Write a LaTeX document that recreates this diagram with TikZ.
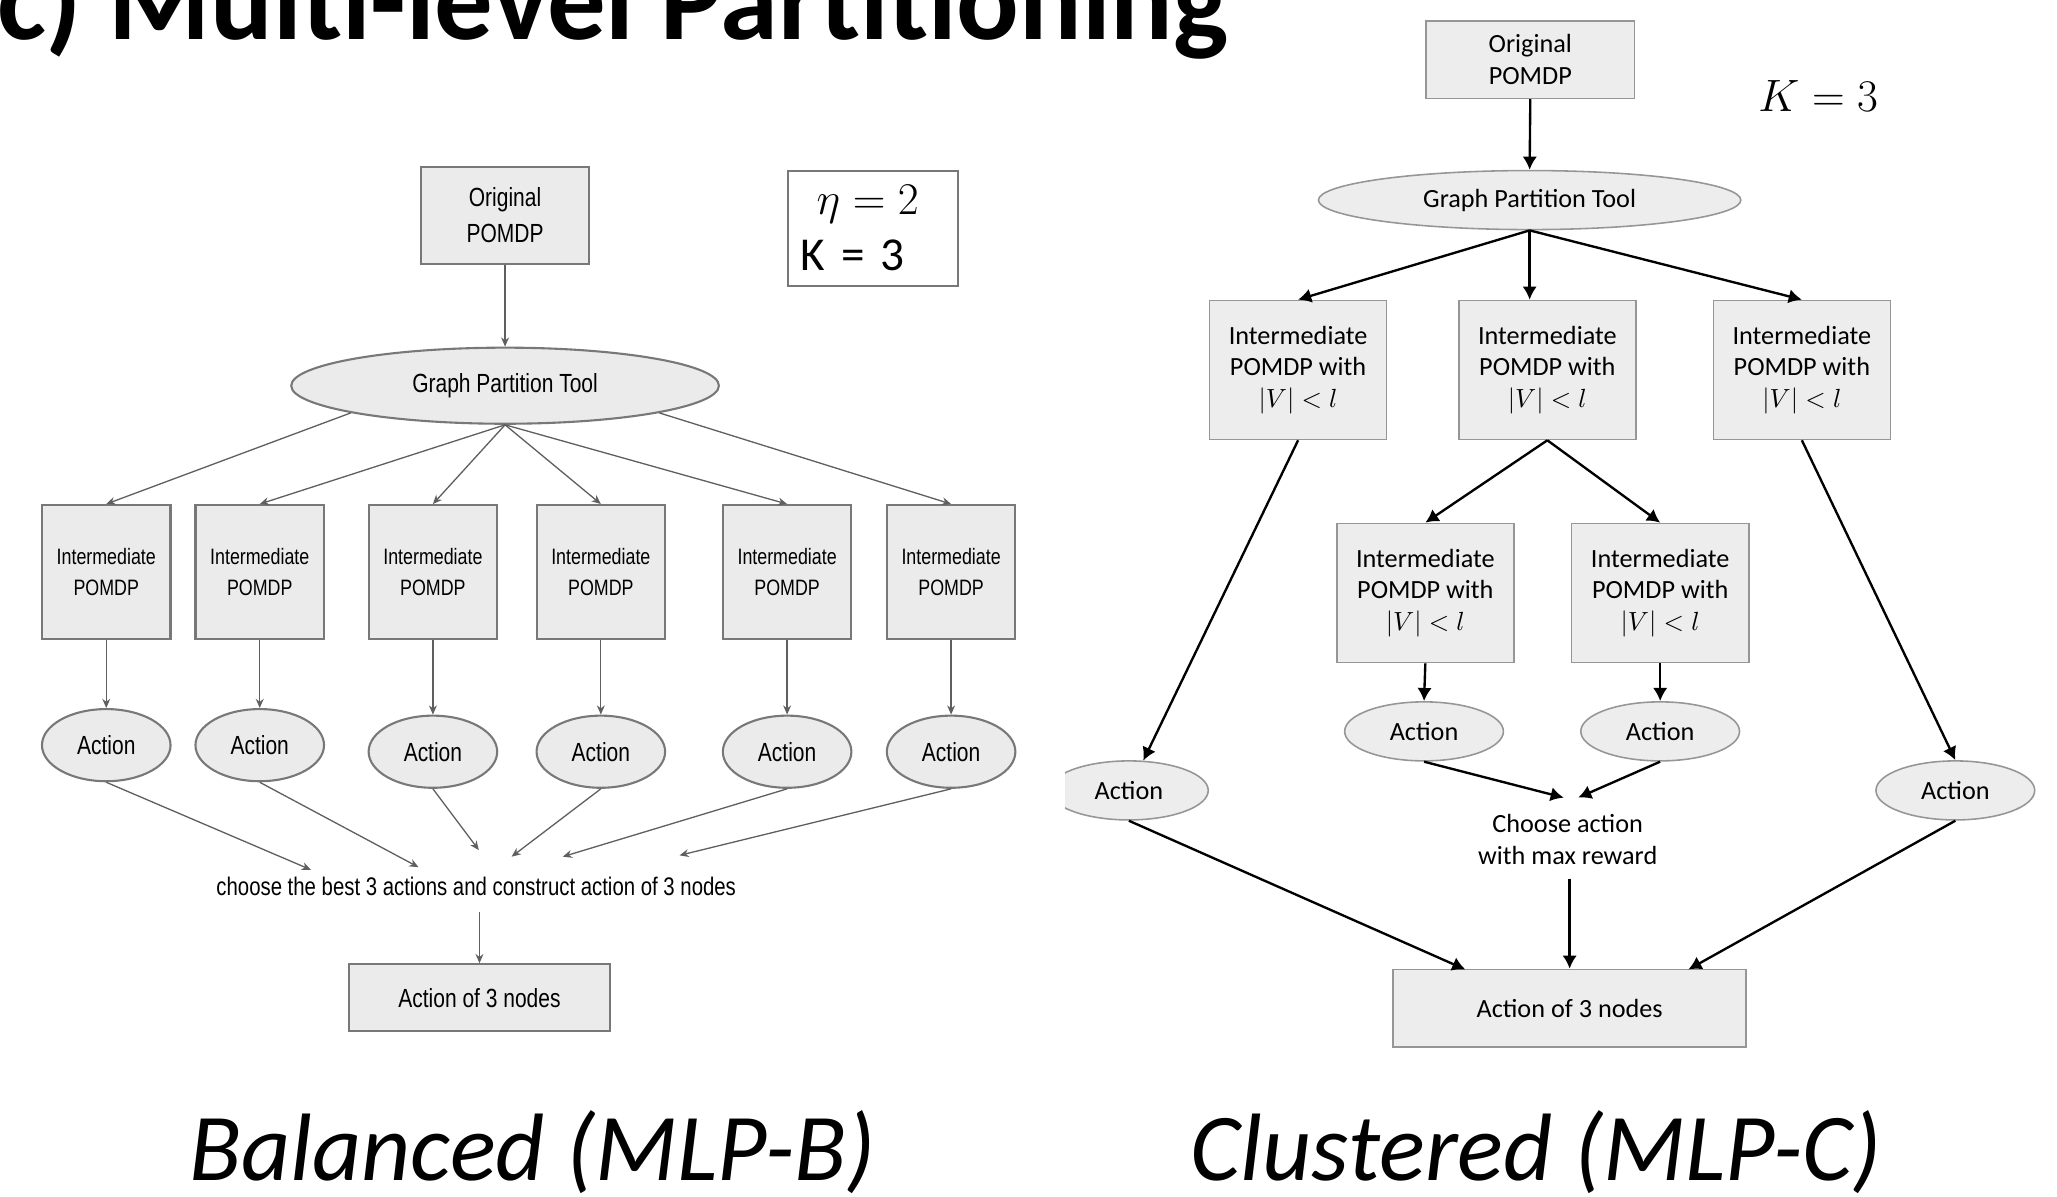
\documentclass[tikz,border=0pt]{standalone}
\usepackage{fontspec}
\setmainfont{Carlito}
\newfontfamily\narrowfont{Liberation Sans}[FakeStretch=0.8]
\usetikzlibrary{shapes.geometric,arrows.meta}

\tikzset{every picture/.style={line width=0.75pt}}
\tikzset{
  lbox/.style={draw={rgb, 255:red, 120; green, 120; blue, 120 }, fill={rgb, 255:red, 235; green, 235; blue, 235 }, line width=0.8pt, inner sep=0pt, align=center, font=\narrowfont\fontsize{10}{14}\selectfont},
  loval/.style={lbox, ellipse},
  larrow/.style={draw={rgb, 255:red, 95; green, 95; blue, 95 }, line width=0.5pt, -{Stealth[length=3.5pt,width=3pt]}},
  rbox/.style={draw={rgb, 255:red, 150; green, 150; blue, 150 }, fill={rgb, 255:red, 237; green, 237; blue, 237 }, line width=0.6pt, inner sep=0pt, align=center, font=\fontsize{10}{12}\selectfont},
  roval/.style={rbox, ellipse},
  rarrow/.style={line width=0.9pt, -{Latex[length=5pt,width=5.5pt]}},
}

\begin{document}
\begin{tikzpicture}[x=0.5pt,y=0.5pt,yscale=-1,xscale=1]
\useasboundingbox (0,0) rectangle (1568,912);

%Text: title
\node[font=\fontsize{44.5}{50}\selectfont\bfseries, anchor=base west, inner sep=0pt] (title) at (-3,30) {c) Multi-level Partitioning};

%Shape: Rectangle -- left, original
\node[lbox, minimum width=64pt, minimum height=37pt] (lorig) at (385,164) {Original\\POMDP};
%Shape: Rectangle -- left, parameters
\node[draw={rgb, 255:red, 120; green, 120; blue, 120 }, fill=white, line width=0.8pt, inner xsep=5pt, inner ysep=0pt, text width=55pt, minimum height=44pt, align=left, font=\fontsize{18}{21.5}\selectfont] (lparam) at (665.5,174) {\hspace{6pt}$\eta = 2$\\K = 3};
%Shape: Ellipse -- left, partition tool
\node[loval, minimum width=163pt, minimum height=29pt] (lgpt) at (385,294) {Graph Partition Tool};

%Shape: Rectangle -- left, intermediate
\node[lbox, minimum width=49pt, minimum height=51pt, font=\narrowfont\fontsize{8.5}{12}\selectfont] (lint1) at (81,436) {Intermediate\\POMDP};
\node[lbox, minimum width=49pt, minimum height=51pt, font=\narrowfont\fontsize{8.5}{12}\selectfont] (lint2) at (198,436) {Intermediate\\POMDP};
\node[lbox, minimum width=49pt, minimum height=51pt, font=\narrowfont\fontsize{8.5}{12}\selectfont] (lint3) at (330,436) {Intermediate\\POMDP};
\node[lbox, minimum width=49pt, minimum height=51pt, font=\narrowfont\fontsize{8.5}{12}\selectfont] (lint4) at (458,436) {Intermediate\\POMDP};
\node[lbox, minimum width=49pt, minimum height=51pt, font=\narrowfont\fontsize{8.5}{12}\selectfont] (lint5) at (600,436) {Intermediate\\POMDP};
\node[lbox, minimum width=49pt, minimum height=51pt, font=\narrowfont\fontsize{8.5}{12}\selectfont] (lint6) at (725,436) {Intermediate\\POMDP};

%Shape: Ellipse -- left, actions
\node[loval, minimum width=49pt, minimum height=27.5pt] (lact1) at (81,568) {Action};
\node[loval, minimum width=49pt, minimum height=27.5pt] (lact2) at (198,568) {Action};
\node[loval, minimum width=49pt, minimum height=27.5pt] (lact3) at (330,573) {Action};
\node[loval, minimum width=49pt, minimum height=27.5pt] (lact4) at (458,573) {Action};
\node[loval, minimum width=49pt, minimum height=27.5pt] (lact5) at (600,573) {Action};
\node[loval, minimum width=49pt, minimum height=27.5pt] (lact6) at (725,573) {Action};

%Text: left, choice
\node[font=\narrowfont\fontsize{9.7}{12}\selectfont, inner xsep=0pt, inner ysep=5.5pt] (lchoose) at (363,676) {choose the best 3 actions and construct action of 3 nodes};
\coordinate (lc1) at (237,663);
\coordinate (lc2) at (319,661);
\coordinate (lc3) at (365,648);
\coordinate (lc4) at (390,653);
\coordinate (lc5) at (429,653);
\coordinate (lc6) at (518,652);
%Shape: Rectangle -- left, output
\node[lbox, minimum width=99.5pt, minimum height=25.5pt] (lout) at (365.5,760.5) {Action of 3 nodes};

%Straight Lines -- left
\draw[larrow] (lorig.south) -- (lgpt.north);
\draw[larrow] (lgpt.190) -- (lint1.north);
\draw[larrow] (lgpt.south) -- (lint2.north);
\draw[larrow] (lgpt.south) -- (lint3.north);
\draw[larrow] (lgpt.south) -- (lint4.north);
\draw[larrow] (lgpt.south) -- (lint5.north);
\draw[larrow] (lgpt.350) -- (lint6.north);
\draw[larrow] (lint1.south) -- (lact1.north);
\draw[larrow] (lint2.south) -- (lact2.north);
\draw[larrow] (lint3.south) -- (lact3.north);
\draw[larrow] (lint4.south) -- (lact4.north);
\draw[larrow] (lint5.south) -- (lact5.north);
\draw[larrow] (lint6.south) -- (lact6.north);
\draw[larrow] (lact1.south) -- (lc1);
\draw[larrow] (lact2.south) -- (lc2);
\draw[larrow] (lact3.south) -- (lc3);
\draw[larrow] (lact4.south) -- (lc4);
\draw[larrow] (lact5.south) -- (lc5);
\draw[larrow] (lact6.south) -- (lc6);
\draw[larrow] (lchoose.south -| lout.north) -- (lout.north);

%Shape: Rectangle -- right, original
\node[rbox, minimum width=79.5pt, minimum height=29.5pt] (rorig) at (1166.5,45.5) {Original\\POMDP};
%Text: right, parameter
\node[font=\fontsize{16.5}{20}\selectfont] (rk) at (1386,73) {$K = 3$};
%Shape: Ellipse -- right, partition tool
\node[roval, minimum width=161pt, minimum height=22.5pt] (rgpt) at (1166,152.5) {Graph Partition Tool};

%Shape: Rectangle -- right, intermediate
\node[rbox, minimum width=67.5pt, minimum height=53pt] (rint1) at (989.5,282) {Intermediate\\POMDP with\\$|V|<l$};
\node[rbox, minimum width=67.5pt, minimum height=53pt] (rint2) at (1179.5,282) {Intermediate\\POMDP with\\$|V|<l$};
\node[rbox, minimum width=67.5pt, minimum height=53pt] (rint3) at (1373.5,282) {Intermediate\\POMDP with\\$|V|<l$};
\node[rbox, minimum width=67.5pt, minimum height=53pt] (rint4) at (1086.5,452) {Intermediate\\POMDP with\\$|V|<l$};
\node[rbox, minimum width=67.5pt, minimum height=53pt] (rint5) at (1265.5,452) {Intermediate\\POMDP with\\$|V|<l$};

%Shape: Ellipse -- right, actions
\node[roval, minimum width=60.5pt, minimum height=22.5pt] (ract4) at (1085.5,557.5) {Action};
\node[roval, minimum width=60.5pt, minimum height=22.5pt] (ract5) at (1265.5,557.5) {Action};
\begin{scope}
\clip (812,570) rectangle (940,640);
\node[roval, minimum width=60.5pt, minimum height=22.5pt] (ract1) at (860.5,602.5) {Action};
\end{scope}
\node[roval, minimum width=60.5pt, minimum height=22.5pt] (ract3) at (1490.5,602.5) {Action};

%Text: right, choice
\node[inner xsep=0pt, inner ysep=5pt, align=center, font=\fontsize{10}{12}\selectfont] (rchoose) at (1195,640) {Choose action\\with max reward};
\coordinate (rm1) at (1192,608);
\coordinate (rm2) at (1203,608);
%Shape: Rectangle -- right, output
\node[rbox, minimum width=134.5pt, minimum height=29.5pt] (rout) at (1196.5,768.5) {Action of 3 nodes};
\coordinate (rin1) at (1117,739);
\coordinate (rin3) at (1287,739);

%Straight Lines -- right
\draw[rarrow] (rorig.south) -- (rgpt.north);
\draw[rarrow] (rgpt.south) -- (rint1.north);
\draw[rarrow] (rgpt.south) -- (rgpt.south |- rint2.north);
\draw[rarrow] (rgpt.south) -- (rint3.north);
\draw[rarrow] (rint2.south) -- (rint4.north);
\draw[rarrow] (rint2.south) -- (rint5.north);
\draw[rarrow] (rint4.south) -- (ract4.north);
\draw[rarrow] (rint5.south) -- (ract5.north);
\draw[rarrow] (rint1.south) -- (ract1);
\draw[rarrow] (rint3.south) -- (ract3.north);
\draw[rarrow] (ract4.south) -- (rm1);
\draw[rarrow] (ract5.south) -- (rm2);
\draw[rarrow] (rchoose.south -| rout.north) -- (rout.north);
\draw[rarrow] (ract1.south) -- (rin1);
\draw[rarrow] (ract3.south) -- (rin3);

%Text: captions
\node[font=\fontsize{36.5}{40}\selectfont\itshape, anchor=base] (lcap) at (406,900) {Balanced (MLP-B)};
\node[font=\fontsize{36.5}{40}\selectfont\itshape, anchor=base] (rcap) at (1171,900) {Clustered (MLP-C)};
\end{tikzpicture}
\end{document}
